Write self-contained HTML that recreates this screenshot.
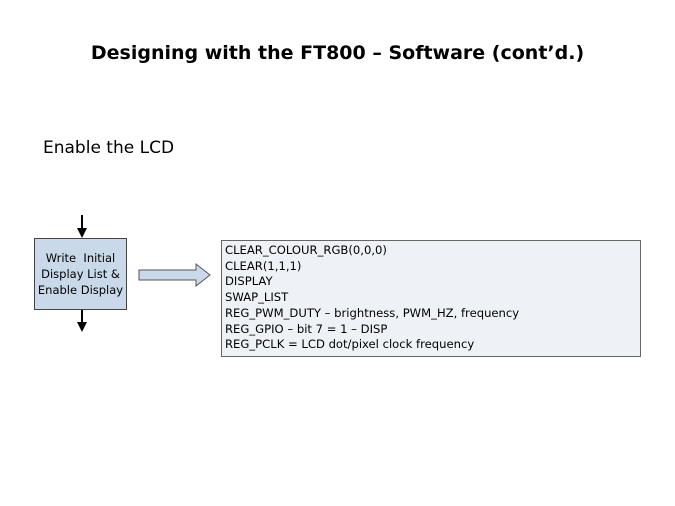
<!DOCTYPE html>
<html><head><style>
body{margin:0;width:675px;height:506px;background:#fff;position:relative;overflow:hidden;font-family:"DejaVu Sans","Liberation Sans",sans-serif;}
.t{position:absolute;left:0;width:675px;top:42px;text-align:center;font-weight:bold;font-size:19px;letter-spacing:0px;color:#000;}
.s{position:absolute;left:43px;top:138px;font-size:17px;color:#000;}
.b1{position:absolute;left:34px;top:238px;width:91px;height:70px;border:1px solid #444;background:#c9d9e9;font-size:11.5px;text-align:center;line-height:16px;}
.b1 div{padding-top:11px;}
.b2{position:absolute;left:221px;top:240px;border:1px solid #666;background:#eef2f7;font-size:11.6px;line-height:15.7px;padding:2px 0 0 3px;box-sizing:border-box;width:420px;height:117px;}
</style></head><body>
<div class="t">Designing with the FT800 – Software (cont’d.)</div>
<div class="s">Enable the LCD</div>
<svg width="675" height="506" style="position:absolute;left:0;top:0">
<line x1="82" y1="215" x2="82" y2="230" stroke="#000" stroke-width="2"/>
<polygon points="77,228 87,228 82,238" fill="#000"/>
<line x1="82" y1="310" x2="82" y2="324" stroke="#000" stroke-width="2"/>
<polygon points="77,322 87,322 82,332" fill="#000"/>
<polygon points="139,270 196,270 196,264 210,275 196,286 196,280 139,280" fill="#c9d9e9" stroke="#555" stroke-width="1"/>
</svg>
<div class="b1"><div>Write&nbsp; Initial<br>Display List &amp;<br>Enable Display</div></div>
<div class="b2">CLEAR_COLOUR_RGB(0,0,0)<br>CLEAR(1,1,1)<br>DISPLAY<br>SWAP_LIST<br>REG_PWM_DUTY – brightness, PWM_HZ, frequency<br>REG_GPIO – bit 7 = 1 – DISP<br>REG_PCLK = LCD dot/pixel clock frequency</div>
</body></html>
